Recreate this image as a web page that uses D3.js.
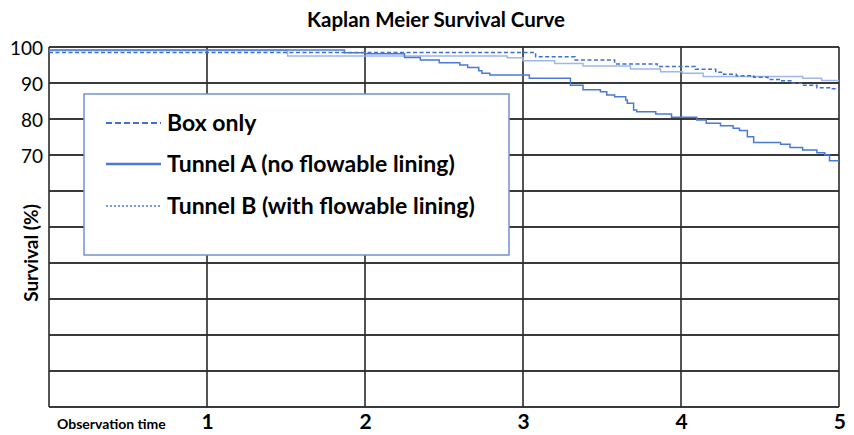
<!DOCTYPE html>
<html>
<head>
<meta charset="utf-8">
<script src="https://cdn.jsdelivr.net/npm/d3@7"></script>
<style>
  html, body { margin: 0; padding: 0; background: #fff; }
  svg { display: block; font-family: Lato, "Open Sans", sans-serif; }
</style>
</head>
<body>
<div id="chart"></div>
<script>
// survival steps: [time, survival %]
const boxOnly = [
  [0, 98.5], [3.08, 97.3], [3.33, 96.4], [3.58, 95.3], [3.85, 94.6], [4.09, 93.8],
  [4.22, 93.0], [4.27, 92.4], [4.35, 92.0], [4.46, 91.6], [4.55, 91.0], [4.63, 90.6],
  [4.70, 89.9], [4.77, 89.4], [4.86, 88.7], [4.94, 88.4], [5, 88.4]
];
const tunnelA = [
  [0, 99.2], [1.87, 98.4], [2.00, 98.1], [2.25, 97.1], [2.35, 96.4], [2.47, 95.6],
  [2.60, 95.0], [2.65, 94.3], [2.72, 93.4], [2.74, 92.7], [2.79, 92.2], [3.04, 91.3],
  [3.30, 89.4], [3.38, 88.1], [3.49, 87.6], [3.53, 86.7], [3.58, 86.2], [3.65, 85.3],
  [3.66, 84.4], [3.70, 82.5], [3.72, 82.0], [3.84, 81.4], [3.94, 80.5], [4.10, 79.7],
  [4.16, 78.8], [4.25, 78.1], [4.33, 77.4], [4.37, 76.8], [4.42, 75.1], [4.46, 73.5],
  [4.63, 73.0], [4.69, 72.1], [4.77, 71.4], [4.86, 70.6], [4.91, 70.0], [4.94, 68.4],
  [5, 68.4]
];
const tunnelB = [
  [0, 99.0], [1.51, 97.5], [2.90, 97.0], [3.00, 96.2], [3.20, 95.4], [3.38, 94.7],
  [3.68, 93.9], [3.87, 93.1], [4.01, 92.7], [4.14, 91.8], [4.77, 91.3], [4.89, 90.7],
  [5, 90.7]
];
const xTicks = [1, 2, 3, 4, 5];
const yTickLabels = [100, 90, 80, 70];
const gridValues = [0, 10, 20, 30, 40, 50, 60, 70, 80, 90, 100];

const width = 854, height = 435;
const margin = { top: 47, right: 15, bottom: 28, left: 49 };

const svg = d3.select('#chart').append('svg')
  .attr('width', width)
  .attr('height', height);

const x = d3.scaleLinear()
  .domain([0, 5])
  .range([margin.left, width - margin.right]);

const y = d3.scaleLinear()
  .domain([0, 100])
  .range([height - margin.bottom, margin.top]);

// grid
svg.append('g')
  .attr('class', 'hgrid')
  .selectAll('line')
  .data(gridValues)
  .join('line')
  .attr('x1', x(0)).attr('x2', x(5))
  .attr('y1', d => y(d)).attr('y2', d => y(d))
  .attr('stroke', '#3a3a3a')
  .attr('stroke-width', 1.8);

svg.append('g')
  .attr('class', 'vgrid')
  .selectAll('line')
  .data([0].concat(xTicks))
  .join('line')
  .attr('x1', d => x(d)).attr('x2', d => x(d))
  .attr('y1', y(100)).attr('y2', y(0))
  .attr('stroke', '#2a2a2a')
  .attr('stroke-width', 1.6);

// axes labels
const yAxis = d3.axisLeft(y)
  .tickValues(yTickLabels)
  .tickSize(0)
  .tickPadding(6);

const gy = svg.append('g')
  .attr('transform', 'translate(' + margin.left + ',0)')
  .call(yAxis);
gy.select('.domain').remove();
gy.selectAll('.tick text')
  .attr('font-family', 'Lato, sans-serif')
  .attr('font-size', 19)
  .attr('fill', '#000')
  .attr('dy', '0.4em');

const xAxis = d3.axisBottom(x)
  .tickValues(xTicks)
  .tickFormat(d3.format('d'))
  .tickSize(0)
  .tickPadding(7);

const gx = svg.append('g')
  .attr('transform', 'translate(0,' + y(0) + ')')
  .call(xAxis);
gx.select('.domain').remove();
gx.selectAll('.tick text')
  .attr('font-family', 'Lato, sans-serif')
  .attr('font-size', 21)
  .attr('font-weight', 'bold')
  .attr('fill', '#000')
  .attr('text-anchor', (d, i) => i === xTicks.length - 1 ? 'end' : 'middle')
  .attr('dx', (d, i) => i === xTicks.length - 1 ? '0.3em' : 0);

svg.append('text')
  .attr('x', 57)
  .attr('y', 429)
  .attr('font-size', 14)
  .attr('font-weight', 'bold')
  .text('Observation time');

svg.append('text')
  .attr('transform', 'translate(38,253) rotate(-90)')
  .attr('text-anchor', 'middle')
  .attr('font-size', 19)
  .attr('font-weight', 'bold')
  .text('Survival (%)');

svg.append('text')
  .attr('x', 436)
  .attr('y', 27)
  .attr('text-anchor', 'middle')
  .attr('font-size', 20.5)
  .attr('font-weight', 'bold')
  .text('Kaplan Meier Survival Curve');

// curves
const line = d3.line()
  .x(d => x(d[0]))
  .y(d => y(d[1]))
  .curve(d3.curveStepAfter);

const series = [
  { name: 'Tunnel B (with flowable lining)', data: tunnelB, color: '#9fb6ea', dash: null, legendColor: '#4a7ad8', legendDash: '2,2', legendWidth: 1.6 },
  { name: 'Box only', data: boxOnly, color: '#3d6fd6', dash: '4,2.5', legendColor: '#3d6fd6', legendDash: '6,3', legendWidth: 2 },
  { name: 'Tunnel A (no flowable lining)', data: tunnelA, color: '#4a7ad8', dash: null, legendColor: '#4a7ad8', legendDash: null, legendWidth: 2.5 }
];

svg.append('g')
  .attr('class', 'curves')
  .selectAll('path')
  .data(series)
  .join('path')
  .attr('d', d => line(d.data))
  .attr('fill', 'none')
  .attr('stroke', d => d.color)
  .attr('stroke-width', 1.5)
  .attr('stroke-dasharray', d => d.dash);

// legend
const legend = svg.append('g').attr('class', 'legend');
legend.append('rect')
  .attr('x', 84).attr('y', 94)
  .attr('width', 425).attr('height', 161)
  .attr('fill', '#fff')
  .attr('stroke', '#7393d4')
  .attr('stroke-width', 1.5);

const legendOrder = [series[1], series[2], series[0]];
const items = legend.selectAll('g.item')
  .data(legendOrder)
  .join('g')
  .attr('class', 'item')
  .attr('transform', (d, i) => 'translate(106,' + [123, 164, 206][i] + ')');

items.append('line')
  .attr('x1', 0).attr('x2', 55)
  .attr('stroke', d => d.legendColor)
  .attr('stroke-width', d => d.legendWidth)
  .attr('stroke-dasharray', d => d.legendDash);

items.append('text')
  .attr('x', 61)
  .attr('dy', '0.35em')
  .attr('font-size', 23)
  .attr('font-weight', 'bold')
  .attr('fill', '#000')
  .text(d => d.name);
</script>
</body>
</html>
